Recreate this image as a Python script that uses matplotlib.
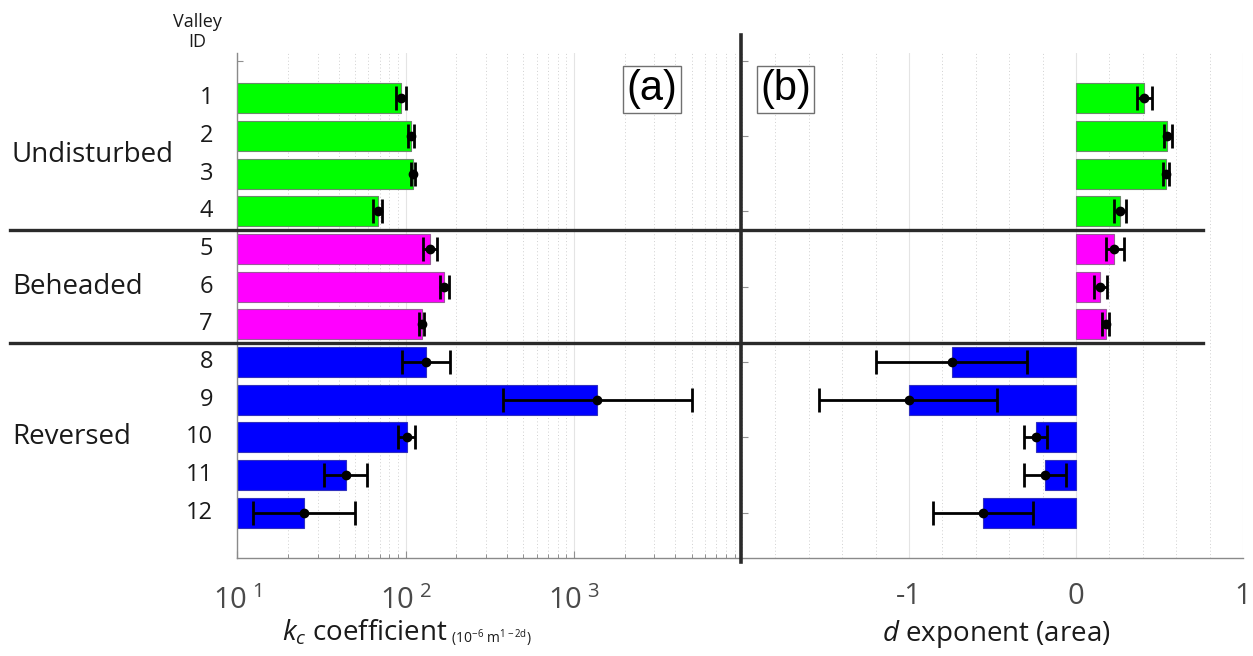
import matplotlib
matplotlib.use("Agg")
import matplotlib.pyplot as plt
import matplotlib.transforms as mtransforms
from matplotlib.lines import Line2D
from matplotlib.ticker import LogLocator, MultipleLocator, NullFormatter

plt.rcParams['font.family'] = ['Open Sans', 'DejaVu Sans']
plt.rcParams['mathtext.fontset'] = 'custom'
plt.rcParams['mathtext.rm'] = 'Open Sans'
plt.rcParams['mathtext.it'] = 'Open Sans:italic'

# ---------------- data ----------------
valley_ids = [1, 2, 3, 4, 5, 6, 7, 8, 9, 10, 11, 12]
groups = ["Undisturbed", "Beheaded", "Reversed"]
group_of = [0, 0, 0, 0, 1, 1, 1, 2, 2, 2, 2, 2]
group_colors = ["#00ff00", "#ff00ff", "#0000ff"]

kc_value = [94, 107, 111, 68, 140, 169, 125, 132, 1374, 102, 44, 25]
kc_low = [88, 103, 108, 64, 127, 159, 120, 95, 378, 90, 32.6, 12.3]
kc_high = [101, 112, 114, 72, 153, 181, 128, 183, 5010, 114, 59, 50]

d_value = [0.41, 0.543, 0.537, 0.262, 0.23, 0.146, 0.18, -0.743, -1.0, -0.241, -0.184, -0.555]
d_low = [0.363, 0.527, 0.519, 0.23, 0.179, 0.108, 0.158, -1.198, -1.537, -0.311, -0.311, -0.854]
d_high = [0.455, 0.573, 0.559, 0.302, 0.285, 0.186, 0.198, -0.295, -0.471, -0.172, -0.06, -0.259]

kc_ticks = [10, 100, 1000]
kc_ticklabels = [r'$\mathregular{10^{\ 1}}$', r'$\mathregular{10^{\ 2}}$', r'$\mathregular{10^{\ 3}}$']
d_ticks = [-1, 0, 1]
d_ticklabels = ["-1", "0", "1"]

# ---------------- figure ----------------
W, H = 1253, 656
fig = plt.figure(figsize=(W / 100, H / 100), dpi=100)

def fx(px):
    return px / W

def fy(py):
    return 1 - py / H

ax1 = fig.add_axes([fx(237.4), fy(558), fx(742.3) - fx(237.4), fy(53) - fy(558)])
ax2 = fig.add_axes([fx(742.0), fy(558), fx(1243) - fx(742.0), fy(53) - fy(558)])

ypos = list(range(1, 13))
colors = [group_colors[g] for g in group_of]
edgecols = ["#6a8a6a" if g == 0 else ("#9a5a9a" if g == 1 else "#3030c0") for g in group_of]

# left panel (log)
ax1.barh(ypos, kc_value, height=0.8, left=0, color=colors, edgecolor=edgecols, linewidth=0.8, zorder=2)
ax1.set_xscale('log')
ax1.errorbar(kc_value, ypos,
             xerr=[[v - l for v, l in zip(kc_value, kc_low)], [h - v for v, h in zip(kc_value, kc_high)]],
             fmt='o', color='black', ms=6, elinewidth=2.0, capsize=8.5, capthick=2.0, zorder=3)
ax1.set_xlim(10, 10000)
ax1.set_ylim(13.2, -0.2)
ax1.set_xticks(kc_ticks)
ax1.set_xticklabels(kc_ticklabels)
ax1.xaxis.set_minor_locator(LogLocator(base=10, subs=range(2, 10), numticks=20))
ax1.xaxis.set_minor_formatter(NullFormatter())
ax1.grid(which='major', axis='x', color='#e4e4e4', linestyle='-', linewidth=0.8, zorder=0)
ax1.grid(which='minor', axis='x', color='#d0d0d0', linestyle=(0, (1, 2.5)), linewidth=0.7, zorder=0)
ax1.set_axisbelow(True)
ax1.set_yticks([0, 2, 4, 6, 8, 10, 12])
ax1.set_yticklabels([])
ax1.tick_params(axis='y', which='both', direction='in', length=4, color='#909090', width=0.8)
ax1.tick_params(axis='x', which='major', direction='in', length=5, color='#909090', width=0.8,
                labelsize=21, labelcolor='#4a4a4a', pad=20)
ax1.tick_params(axis='x', which='minor', direction='in', length=3, color='#909090', width=0.7)
for s in ['top', 'right']:
    ax1.spines[s].set_visible(False)
for s in ['left', 'bottom']:
    ax1.spines[s].set_color('#8a8a8a')
    ax1.spines[s].set_linewidth(1.0)

# right panel (linear)
ax2.barh(ypos, d_value, height=0.8, color=colors, edgecolor=edgecols, linewidth=0.8, zorder=2)
ax2.errorbar(d_value, ypos,
             xerr=[[v - l for v, l in zip(d_value, d_low)], [h - v for v, h in zip(d_value, d_high)]],
             fmt='o', color='black', ms=6, elinewidth=2.0, capsize=8.5, capthick=2.0, zorder=3)
ax2.set_xlim(-2, 1)
ax2.set_ylim(13.2, -0.2)
ax2.set_xticks(d_ticks)
ax2.set_xticklabels(d_ticklabels)
ax2.xaxis.set_minor_locator(MultipleLocator(0.2))
ax2.grid(which='major', axis='x', color='#e4e4e4', linestyle='-', linewidth=0.8, zorder=0)
ax2.grid(which='minor', axis='x', color='#d0d0d0', linestyle=(0, (1, 2.5)), linewidth=0.7, zorder=0)
ax2.set_axisbelow(True)
ax2.set_yticks([0, 2, 4, 6, 8, 10, 12])
ax2.set_yticklabels([])
ax2.tick_params(axis='y', which='both', direction='in', length=4, color='#909090', width=0.8)
ax2.tick_params(axis='x', which='major', direction='in', length=0, labelsize=21, labelcolor='#4a4a4a', pad=17)
ax2.tick_params(axis='x', which='minor', length=0)
for s in ['top', 'right', 'left']:
    ax2.spines[s].set_visible(False)
ax2.spines['bottom'].set_color('#8a8a8a')
ax2.spines['bottom'].set_linewidth(1.0)

# panel labels
box = dict(boxstyle='square,pad=0.08', facecolor='white', edgecolor='#707070', linewidth=1.0)
ax1.text(0.821, 0.928, "(a)", transform=ax1.transAxes, fontsize=30, ha='center', va='center',
         family=['Liberation Sans', 'DejaVu Sans'], bbox=box, zorder=5)
ax2.text(0.087, 0.928, "(b)", transform=ax2.transAxes, fontsize=30, ha='center', va='center',
         family=['Liberation Sans', 'DejaVu Sans'], bbox=box, zorder=5)

# axis labels
t1 = fig.text(fx(282), fy(633), r'$\mathit{k}_{\mathit{c}}$ coefficient', fontsize=20, ha='left', va='center',
              color='#1a1a1a')
fig.canvas.draw()
ax1.annotate(r' (10$^{\mathregular{-6}}$ m$^{\mathregular{1-2d}}$)', xy=(1.0, 0.33), xycoords=t1,
             fontsize=10, ha='left', va='center', color='#1a1a1a', annotation_clip=False)
fig.text(fx(996), fy(634), r'$\mathit{d}$ exponent (area)', fontsize=20, ha='center', va='center',
         color='#1a1a1a')

# y labels (valley IDs and groups)
btrans = mtransforms.blended_transform_factory(fig.transFigure, ax1.transData)
for vid, y in zip(valley_ids, ypos):
    fig.text(fx(213), y, str(vid), transform=btrans, fontsize=17, ha='right', va='center', color='#1a1a1a')
group_y = [2.5, 6, 10]
for gname, gy in zip(groups, group_y):
    fig.text(fx(12), gy, gname, transform=btrans, fontsize=20, ha='left', va='center', color='#1a1a1a')
fig.text(fx(197), fy(32), "Valley\nID", fontsize=13, ha='center', va='center', color='#1a1a1a',
         linespacing=1.1)

# separators
for yy in [4.5, 7.5]:
    fig.add_artist(Line2D([fx(10), fx(1203)], [yy, yy], transform=btrans, color='#2a2a2a', linewidth=2.4,
                          zorder=10))
fig.add_artist(Line2D([fx(741), fx(741)], [fy(35), fy(562)], transform=fig.transFigure, color='#2a2a2a',
                      linewidth=2.6, zorder=10))

fig.savefig("out.png", dpi=100)
